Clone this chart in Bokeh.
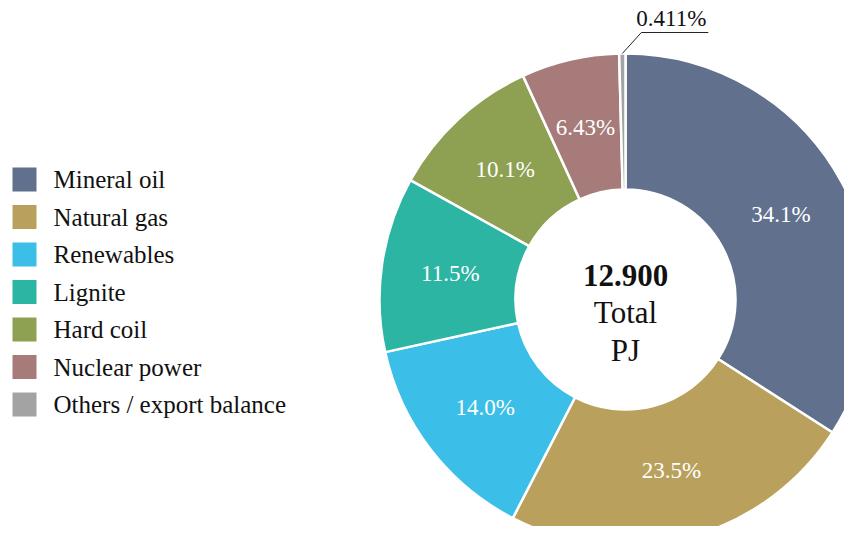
import numpy as np
from bokeh.plotting import figure
from bokeh.models import Range1d, ColumnDataSource
from bokeh.core.properties import value
from bokeh.embed import file_html
from bokeh.resources import INLINE

# ---- data ----
categories = ["Mineral oil", "Natural gas", "Renewables", "Lignite",
              "Hard coil", "Nuclear power", "Others / export balance"]
shares = [34.1, 23.5, 14.0, 11.5, 10.1, 6.43, 0.411]
share_labels = ["34.1%", "23.5%", "14.0%", "11.5%", "10.1%", "6.43%", "0.411%"]
colors = ["#61718D", "#B9A15D", "#3BBEE7", "#2BB5A2", "#8EA052", "#A67B7A", "#A3A3A3"]
total_value = "12.900"
total_lines = ["Total", "PJ"]

FONT = "Liberation Serif"
W, H = 844, 526


def px(X):
    return X


def py(Y):
    return H - Y


p = figure(width=W, height=H, x_range=Range1d(0, W), y_range=Range1d(0, H),
           output_backend="svg", toolbar_location=None, min_border=0)
p.axis.visible = False
p.grid.visible = False
p.outline_line_color = None
p.background_fill_color = "white"

# ---- donut ----
cx, cy = px(625), py(299)
r_out, r_in = 246, 110
vals = np.array(shares, dtype=float)
frac = vals / vals.sum()
cum = np.cumsum(frac)
start = np.pi / 2 - 2 * np.pi * (cum - frac)
end = np.pi / 2 - 2 * np.pi * cum
mid = (start + end) / 2

src = ColumnDataSource(dict(start=start, end=end, color=colors, cat=categories))
p.annular_wedge(x=cx, y=cy, inner_radius=r_in, outer_radius=r_out,
                start_angle="start", end_angle="end", direction="clock",
                fill_color="color", line_color="white", line_width=2.5, source=src)

# inner labels
r_lab = 177
big = frac > 0.02
lab_src = ColumnDataSource(dict(
    x=cx + r_lab * np.cos(mid[big]),
    y=cy + r_lab * np.sin(mid[big]),
    t=[share_labels[i] for i in range(len(shares)) if big[i]]))
p.text(x="x", y="y", text="t", source=lab_src, text_color="white",
       text_font=value(FONT), text_font_size="23px",
       text_align="center", text_baseline="middle")

# outside label for tiny slices
for i in np.where(~big)[0]:
    x0 = cx + r_out * np.cos(mid[i])
    y0 = cy + r_out * np.sin(mid[i])
    x1, y1 = x0 + 19, y0 + 21
    x2 = x1 + 67
    p.line(x=[x0, x1, x2], y=[y0, y1, y1], line_color="#222222", line_width=1)
    p.text(x=[x1 - 5], y=[y1 + 2], text=[share_labels[i]], text_color="#111111",
           text_font=value(FONT), text_font_size="23px",
           text_align="left", text_baseline="bottom")

# center text
p.text(x=[cx], y=[py(275)], text=[total_value], text_font=value(FONT),
       text_font_size="31px", text_font_style="bold", text_color="#111111",
       text_align="center", text_baseline="middle")
p.text(x=[cx, cx], y=[py(312), py(350)], text=total_lines, text_font=value(FONT),
       text_font_size="31px", text_color="#111111",
       text_align="center", text_baseline="middle")

# ---- legend ----
n = len(categories)
leg_y = [py(179 + 37.5 * i) for i in range(n)]
p.rect(x=[px(24)] * n, y=leg_y, width=24, height=24, fill_color=colors, line_color=None)
p.text(x=[px(53)] * n, y=leg_y, text=categories, text_font=value(FONT),
       text_font_size="25px", text_color="#111111",
       text_align="left", text_baseline="middle")

open("out.html", "w").write(file_html(p, INLINE))
